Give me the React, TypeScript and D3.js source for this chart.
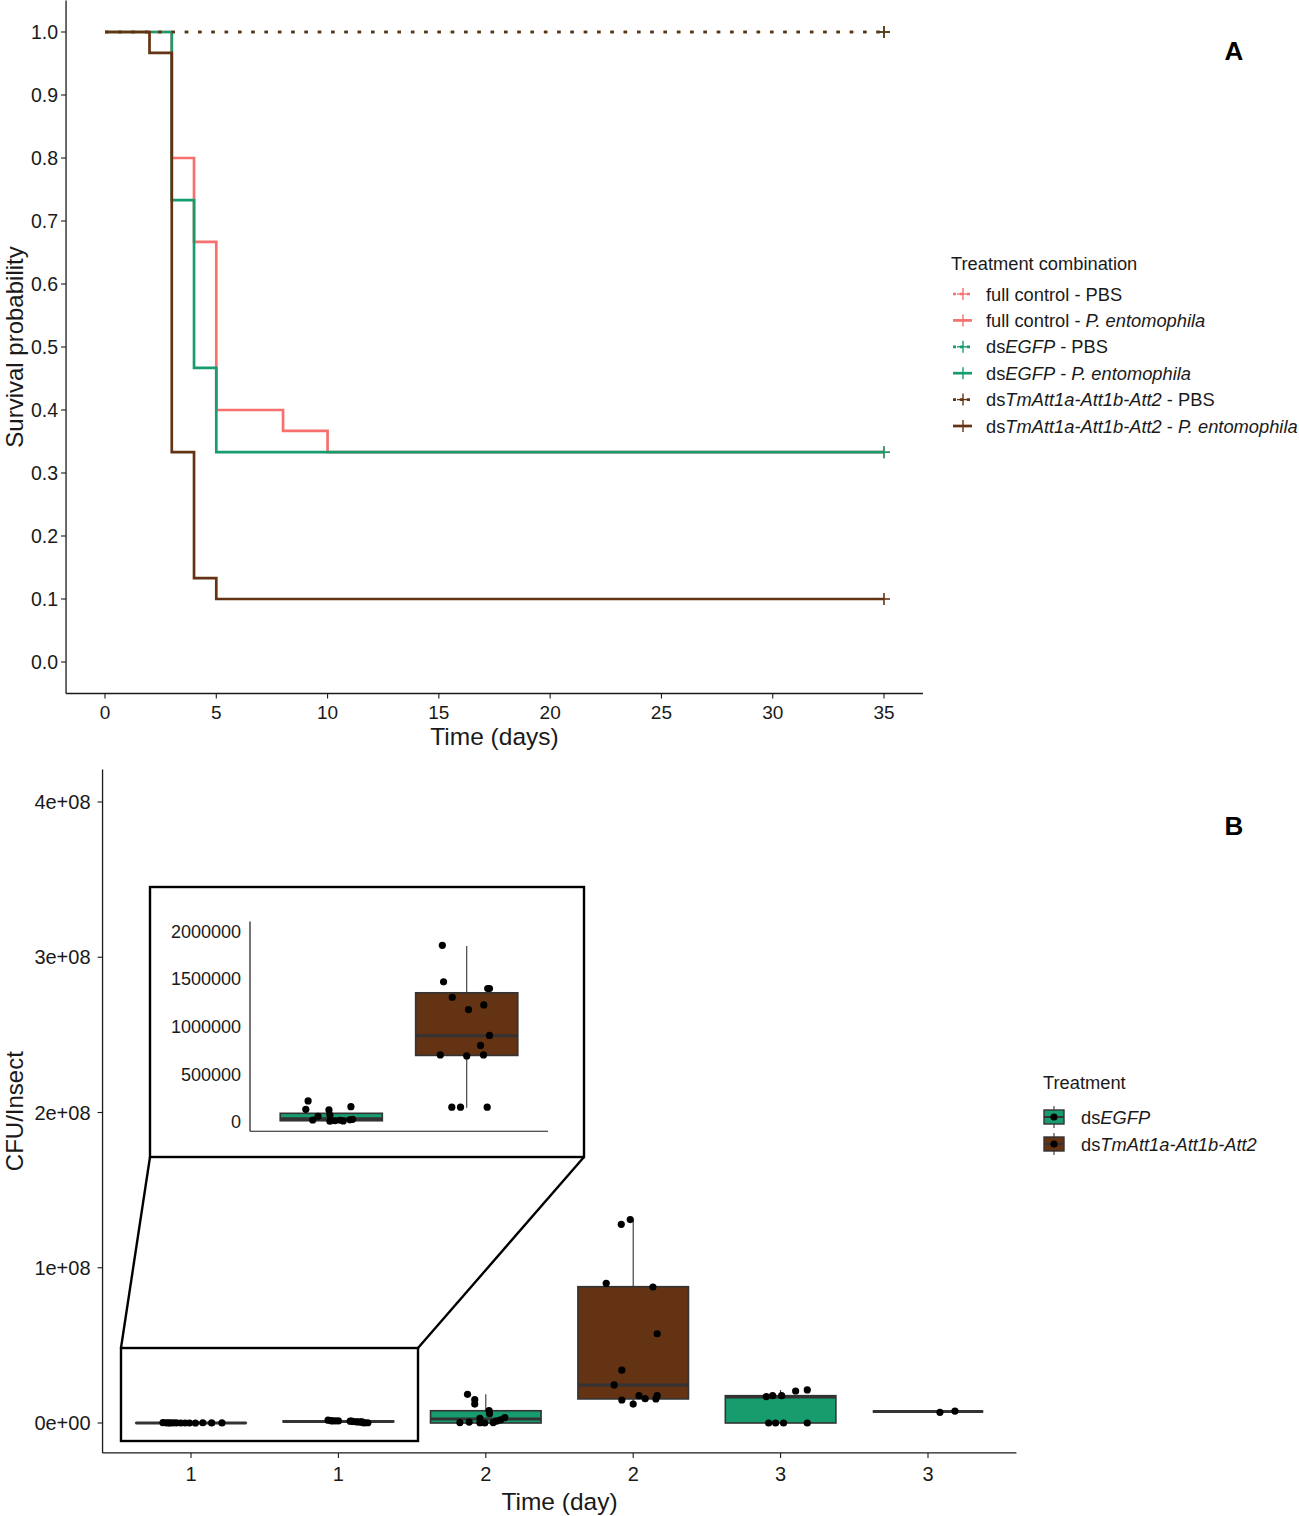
import { useEffect } from 'react'
import * as d3 from 'd3'

const FONT = '"Liberation Sans", Arial, Helvetica, sans-serif'
const RED = '#F6716D'
const GREEN = '#179C6E'
const BROWN = '#633313'
const INK = '#1a1a1a'
const BOX_LINE = '#333333'

// ---- panel A: survival curves ----
const survXTicks = [0, 5, 10, 15, 20, 25, 30, 35]
const survYTicks = [0, 0.1, 0.2, 0.3, 0.4, 0.5, 0.6, 0.7, 0.8, 0.9, 1.0]
const studyEnd = 35

const fullPbsTime = [0]
const fullPbsSurv = [1]
const fullPeTime = [0, 3, 4, 5, 8, 10]
const fullPeSurv = [1, 0.8, 0.667, 0.4, 0.367, 0.333]
const egfpPbsTime = [0]
const egfpPbsSurv = [1]
const egfpPeTime = [0, 3, 4, 5]
const egfpPeSurv = [1, 0.733, 0.467, 0.333]
const attPbsTime = [0]
const attPbsSurv = [1]
const attPeTime = [0, 2, 3, 4, 5]
const attPeSurv = [1, 0.967, 0.333, 0.133, 0.1]

type Part = [string, boolean]
const curves: { time: number[]; surv: number[]; color: string; dotted: boolean; label: Part[] }[] = [
  { time: fullPbsTime, surv: fullPbsSurv, color: RED, dotted: true, label: [['full control - PBS', false]] },
  { time: fullPeTime, surv: fullPeSurv, color: RED, dotted: false, label: [['full control - ', false], ['P. entomophila', true]] },
  { time: egfpPbsTime, surv: egfpPbsSurv, color: GREEN, dotted: true, label: [['ds', false], ['EGFP', true], [' - PBS', false]] },
  { time: egfpPeTime, surv: egfpPeSurv, color: GREEN, dotted: false, label: [['ds', false], ['EGFP', true], [' - ', false], ['P. entomophila', true]] },
  { time: attPbsTime, surv: attPbsSurv, color: BROWN, dotted: true, label: [['ds', false], ['TmAtt1a-Att1b-Att2', true], [' - PBS', false]] },
  { time: attPeTime, surv: attPeSurv, color: BROWN, dotted: false, label: [['ds', false], ['TmAtt1a-Att1b-Att2', true], [' - ', false], ['P. entomophila', true]] },
]

// ---- panel B: CFU boxplots ----
const groupLabels = ['1', '1', '2', '2', '3', '3']
const groupTreatment = [0, 1, 0, 1, 0, 1]
const cfuYTicks = [0, 1e8, 2e8, 3e8, 4e8]
const insetYTicks = [0, 500000, 1000000, 1500000, 2000000]
const treatmentLabels: Part[][] = [[['ds', false], ['EGFP', true]], [['ds', false], ['TmAtt1a-Att1b-Att2', true]]]
const treatmentColors = [GREEN, BROWN]

// box stats: [lower whisker, q1, median, q3, upper whisker]
const boxStats = [
  [0, 10000, 30000, 88000, 88000],
  [147000, 695000, 902000, 1352000, 1842000],
  [0, 0, 2.5e6, 7.9e6, 18.5e6],
  [12.2e6, 15.5e6, 24.5e6, 87.8e6, 131e6],
  [0, 0, 16.8e6, 17.6e6, 21.3e6],
  [7.4e6, 7.4e6, 7.4e6, 7.4e6, 7.4e6],
]

const day1Egfp = [218000, 130000, 57000, 18000, 123000, 70000, 5000, 10000, 15000, 8000, 158000, 20000, 25000]
const day1EgfpJitterInset = [-0.171, -0.188, -0.098, -0.137, -0.017, -0.01, -0.01, 0.027, 0.064, 0.088, 0.145, 0.138, 0.157]
const day1EgfpJitterMain = [-0.19, -0.17, -0.155, -0.14, -0.12, -0.1, -0.07, -0.04, -0.01, 0.03, 0.08, 0.14, 0.21]
const day1Att = [1850000, 1467000, 1397000, 1397000, 1305000, 1176000, 1225000, 905000, 800000, 700000, 690000, 700000, 152000, 152000, 152000]
const day1AttJitterInset = [-0.18, -0.171, 0.155, 0.168, -0.107, 0.013, 0.126, 0.168, 0.102, -0.195, 0, 0.124, -0.11, -0.046, 0.151]
const day1AttJitterMain = [-0.07, -0.05, -0.04, -0.02, 0, 0.08, 0.09, 0.1, 0.12, 0.13, 0.15, 0.16, 0.17, 0.18, 0.2]
const day2Egfp = [18.5e6, 15e6, 12.2e6, 8e6, 6e6, 3e6, 3.5e6, 0.3e6, 0.6e6, 0.2e6, 0, 0.3e6, 1.2e6, 2e6]
const day2EgfpJitter = [-0.124, -0.075, -0.075, 0.022, 0.025, -0.04, 0.129, -0.176, -0.113, -0.04, -0.007, 0.05, 0.073, 0.1]
const day2Att = [131e6, 128e6, 90e6, 87.6e6, 57.5e6, 34e6, 24.5e6, 14.8e6, 12.2e6, 17.6e6, 15.7e6, 15.5e6, 17.6e6]
const day2AttJitter = [-0.02, -0.081, -0.183, 0.134, 0.163, -0.077, -0.129, -0.077, 0, 0.039, 0.081, 0.154, 0.163]
const day3Egfp = [17e6, 17.6e6, 17.6e6, 20.6e6, 21.3e6, 0, 0, 0, 0]
const day3EgfpJitter = [-0.097, -0.054, 0.007, 0.102, 0.181, -0.081, -0.034, 0.02, 0.181]
const day3Att = [6.9e6, 7.7e6]
const day3AttJitter = [0.081, 0.183]

const mainPoints = [
  [day1Egfp, day1EgfpJitterMain],
  [day1Att, day1AttJitterMain],
  [day2Egfp, day2EgfpJitter],
  [day2Att, day2AttJitter],
  [day3Egfp, day3EgfpJitter],
  [day3Att, day3AttJitter],
]
const insetPoints = [
  [day1Egfp, day1EgfpJitterInset],
  [day1Att, day1AttJitterInset],
]

// zoom window in main data coordinates
const zoomX = [0.525, 2.54]
const zoomY = [-1.16e7, 4.83e7]

function Label({ parts, x, y, size = 18.3, anchor = 'start' }: { parts: Part[]; x: number; y: number; size?: number; anchor?: string }) {
  return (
    <text x={x} y={y} fontSize={size} fontFamily={FONT} fill={INK} textAnchor={anchor}>
      {parts.map(([t, it], i) => (
        <tspan key={i} fontStyle={it ? 'italic' : 'normal'} xmlSpace="preserve">{t}</tspan>
      ))}
    </text>
  )
}

function Boxes({ x, y, stats, points, half }: { x: (v: number) => number; y: (v: number) => number; stats: number[][]; points: number[][][]; half: number }) {
  return (
    <g>
      {stats.map((s, i) => {
        const cx = x(i + 1)
        const w = x(i + 1 + half) - cx
        return (
          <g key={i}>
            <line x1={cx} x2={cx} y1={y(s[3])} y2={y(s[4])} stroke={BOX_LINE} strokeWidth={1.1} />
            <line x1={cx} x2={cx} y1={y(s[1])} y2={y(s[0])} stroke={BOX_LINE} strokeWidth={1.1} />
            <rect x={cx - w} width={2 * w} y={y(s[3])} height={Math.max(0, y(s[1]) - y(s[3]))}
              fill={treatmentColors[groupTreatment[i]]} stroke={BOX_LINE} strokeWidth={1.6} />
            <line x1={cx - w} x2={cx + w} y1={y(s[2])} y2={y(s[2])} stroke={BOX_LINE} strokeWidth={3} />
          </g>
        )
      })}
      {points.map(([vals, jit], i) =>
        vals.map((v, j) => <circle key={`${i}-${j}`} cx={x(i + 1 + jit[j])} cy={y(v)} r={3.6} fill="#000" />)
      )}
    </g>
  )
}

export default function App() {
  useEffect(() => {
    document.body.style.margin = '0'
  }, [])

  // panel A scales
  const xA = d3.scaleLinear().domain([0, 35]).range([105, 884])
  const yA = d3.scaleLinear().domain([0, 1]).range([662, 32])
  const stepLine = d3.line<[number, number]>().x(d => xA(d[0])).y(d => yA(d[1])).curve(d3.curveStepAfter)

  // panel B scales
  const xB = d3.scaleLinear().domain([1, 6]).range([191, 928])
  const yB = d3.scaleLinear().domain([0, 4e8]).range([1423, 802])

  // inset
  const inset = { left: 150, top: 887, right: 584, bottom: 1157 }
  const xI = d3.scaleLinear().domain([0.4, 2.6]).range([250, 548])
  const yI = d3.scaleLinear().domain([0, 2e6]).range([1121.7, 931])

  const zl = xB(zoomX[0]), zr = xB(zoomX[1]), zt = yB(zoomY[1]), zb = yB(zoomY[0])

  return (
    <svg width={1299} height={1516} style={{ display: 'block', background: '#fff' }}>
      {/* ===== Panel A ===== */}
      <g>
        <line x1={xA(-1.75)} x2={xA(36.75)} y1={yA(-0.05)} y2={yA(-0.05)} stroke={INK} strokeWidth={1.3} />
        <line x1={xA(-1.75)} x2={xA(-1.75)} y1={yA(-0.05)} y2={yA(1.05)} stroke={INK} strokeWidth={1.3} />
        {survXTicks.map(t => (
          <g key={t}>
            <line x1={xA(t)} x2={xA(t)} y1={yA(-0.05)} y2={yA(-0.05) + 5} stroke={INK} strokeWidth={1.1} />
            <text x={xA(t)} y={yA(-0.05) + 25.5} fontSize={19} fontFamily={FONT} fill={INK} textAnchor="middle">{t}</text>
          </g>
        ))}
        {survYTicks.map(t => (
          <g key={t}>
            <line x1={xA(-1.75) - 5} x2={xA(-1.75)} y1={yA(t)} y2={yA(t)} stroke={INK} strokeWidth={1.1} />
            <text x={xA(-1.75) - 8} y={yA(t) + 7} fontSize={19.5} fontFamily={FONT} fill={INK} textAnchor="end">{t.toFixed(1)}</text>
          </g>
        ))}
        <text x={(xA(-1.75) + xA(36.75)) / 2} y={745} fontSize={24.5} fontFamily={FONT} fill={INK} textAnchor="middle">Time (days)</text>
        <text transform={`translate(22.5,${(yA(1.05) + yA(-0.05)) / 2}) rotate(-90)`} fontSize={24} fontFamily={FONT} fill={INK} textAnchor="middle">Survival probability</text>

        {curves.map((c, i) => {
          const pts: [number, number][] = c.time.map((t, j) => [t, c.surv[j]])
          pts.push([studyEnd, c.surv[c.surv.length - 1]])
          const last = c.surv[c.surv.length - 1]
          return (
            <g key={i}>
              <path d={stepLine(pts) || ''} fill="none" stroke={c.color} strokeWidth={2.7}
                strokeDasharray={c.dotted ? '3.4 9.9' : undefined} />
              <line x1={xA(studyEnd) - 6} x2={xA(studyEnd) + 6} y1={yA(last)} y2={yA(last)} stroke={c.color} strokeWidth={1.6} />
              <line x1={xA(studyEnd)} x2={xA(studyEnd)} y1={yA(last) - 6} y2={yA(last) + 6} stroke={c.color} strokeWidth={1.6} />
            </g>
          )
        })}

        <text x={1234} y={60} fontSize={26} fontWeight="bold" fontFamily={FONT} fill="#000" textAnchor="middle">A</text>

        {/* legend A */}
        <text x={951} y={269.5} fontSize={18.3} fontFamily={FONT} fill={INK}>Treatment combination</text>
        {curves.map((c, i) => {
          const cy = 294 + i * 26.4
          return (
            <g key={i}>
              <line x1={953} x2={972} y1={cy} y2={cy} stroke={c.color} strokeWidth={2.7} strokeDasharray={c.dotted ? '3 4' : undefined} />
              <line x1={957} x2={969} y1={cy} y2={cy} stroke={c.color} strokeWidth={1.4} />
              <line x1={963} x2={963} y1={cy - 6} y2={cy + 6} stroke={c.color} strokeWidth={1.4} />
              <Label parts={c.label} x={986} y={cy + 6.5} />
            </g>
          )
        })}
      </g>

      {/* ===== Panel B ===== */}
      <g>
        <line x1={xB(0.4)} x2={xB(6.6)} y1={yB(-1.93e7)} y2={yB(-1.93e7)} stroke={INK} strokeWidth={1.3} />
        <line x1={xB(0.4)} x2={xB(0.4)} y1={yB(-1.93e7)} y2={yB(4.21e8)} stroke={INK} strokeWidth={1.3} />
        {groupLabels.map((g, i) => (
          <g key={i}>
            <line x1={xB(i + 1)} x2={xB(i + 1)} y1={yB(-1.93e7)} y2={yB(-1.93e7) + 5} stroke={INK} strokeWidth={1.1} />
            <text x={xB(i + 1)} y={yB(-1.93e7) + 28} fontSize={20} fontFamily={FONT} fill={INK} textAnchor="middle">{g}</text>
          </g>
        ))}
        {cfuYTicks.map(t => (
          <g key={t}>
            <line x1={xB(0.4) - 5} x2={xB(0.4)} y1={yB(t)} y2={yB(t)} stroke={INK} strokeWidth={1.1} />
            <text x={xB(0.4) - 12} y={yB(t) + 7} fontSize={20} fontFamily={FONT} fill={INK} textAnchor="end">
              {t === 0 ? '0e+00' : `${t / 1e8}e+08`}
            </text>
          </g>
        ))}
        <text x={(xB(0.4) + xB(6.6)) / 2} y={1510} fontSize={24.5} fontFamily={FONT} fill={INK} textAnchor="middle">Time (day)</text>
        <text transform={`translate(22.5,${(yB(-1.93e7) + yB(4.21e8)) / 2}) rotate(-90)`} fontSize={24} fontFamily={FONT} fill={INK} textAnchor="middle">CFU/Insect</text>

        <Boxes x={xB} y={yB} stats={boxStats} points={mainPoints} half={0.375} />

        {/* zoom window and connectors */}
        <rect x={zl} y={zt} width={zr - zl} height={zb - zt} fill="none" stroke="#000" strokeWidth={2.4} />
        <line x1={inset.left} y1={inset.bottom} x2={zl} y2={zt} stroke="#000" strokeWidth={2.4} />
        <line x1={inset.right} y1={inset.bottom} x2={zr} y2={zt} stroke="#000" strokeWidth={2.4} />

        {/* inset */}
        <rect x={inset.left} y={inset.top} width={inset.right - inset.left} height={inset.bottom - inset.top} fill="#fff" stroke="#000" strokeWidth={2.4} />
        <line x1={xI(0.4)} x2={xI(2.6)} y1={yI(-1e5)} y2={yI(-1e5)} stroke={INK} strokeWidth={1.2} />
        <line x1={xI(0.4)} x2={xI(0.4)} y1={yI(-1e5)} y2={yI(2.1e6)} stroke={INK} strokeWidth={1.2} />
        {insetYTicks.map(t => (
          <text key={t} x={xI(0.4) - 9} y={yI(t) + 6.5} fontSize={18} fontFamily={FONT} fill={INK} textAnchor="end">{t}</text>
        ))}
        <Boxes x={xI} y={yI} stats={boxStats.slice(0, 2)} points={insetPoints} half={0.377} />

        <text x={1234} y={835} fontSize={26} fontWeight="bold" fontFamily={FONT} fill="#000" textAnchor="middle">B</text>

        {/* legend B */}
        <text x={1043} y={1088.5} fontSize={18.3} fontFamily={FONT} fill={INK}>Treatment</text>
        {treatmentLabels.map((lab, i) => {
          const cy = 1117 + i * 27
          return (
            <g key={i}>
              <line x1={1054} x2={1054} y1={cy - 11} y2={cy + 11} stroke={BOX_LINE} strokeWidth={1.1} />
              <rect x={1044} y={cy - 7} width={20} height={14} fill={treatmentColors[i]} stroke={BOX_LINE} strokeWidth={1.4} />
              <line x1={1044} x2={1064} y1={cy} y2={cy} stroke={BOX_LINE} strokeWidth={2} />
              <circle cx={1054} cy={cy} r={3.6} fill="#000" />
              <Label parts={lab} x={1081} y={cy + 6.5} />
            </g>
          )
        })}
      </g>
    </svg>
  )
}
